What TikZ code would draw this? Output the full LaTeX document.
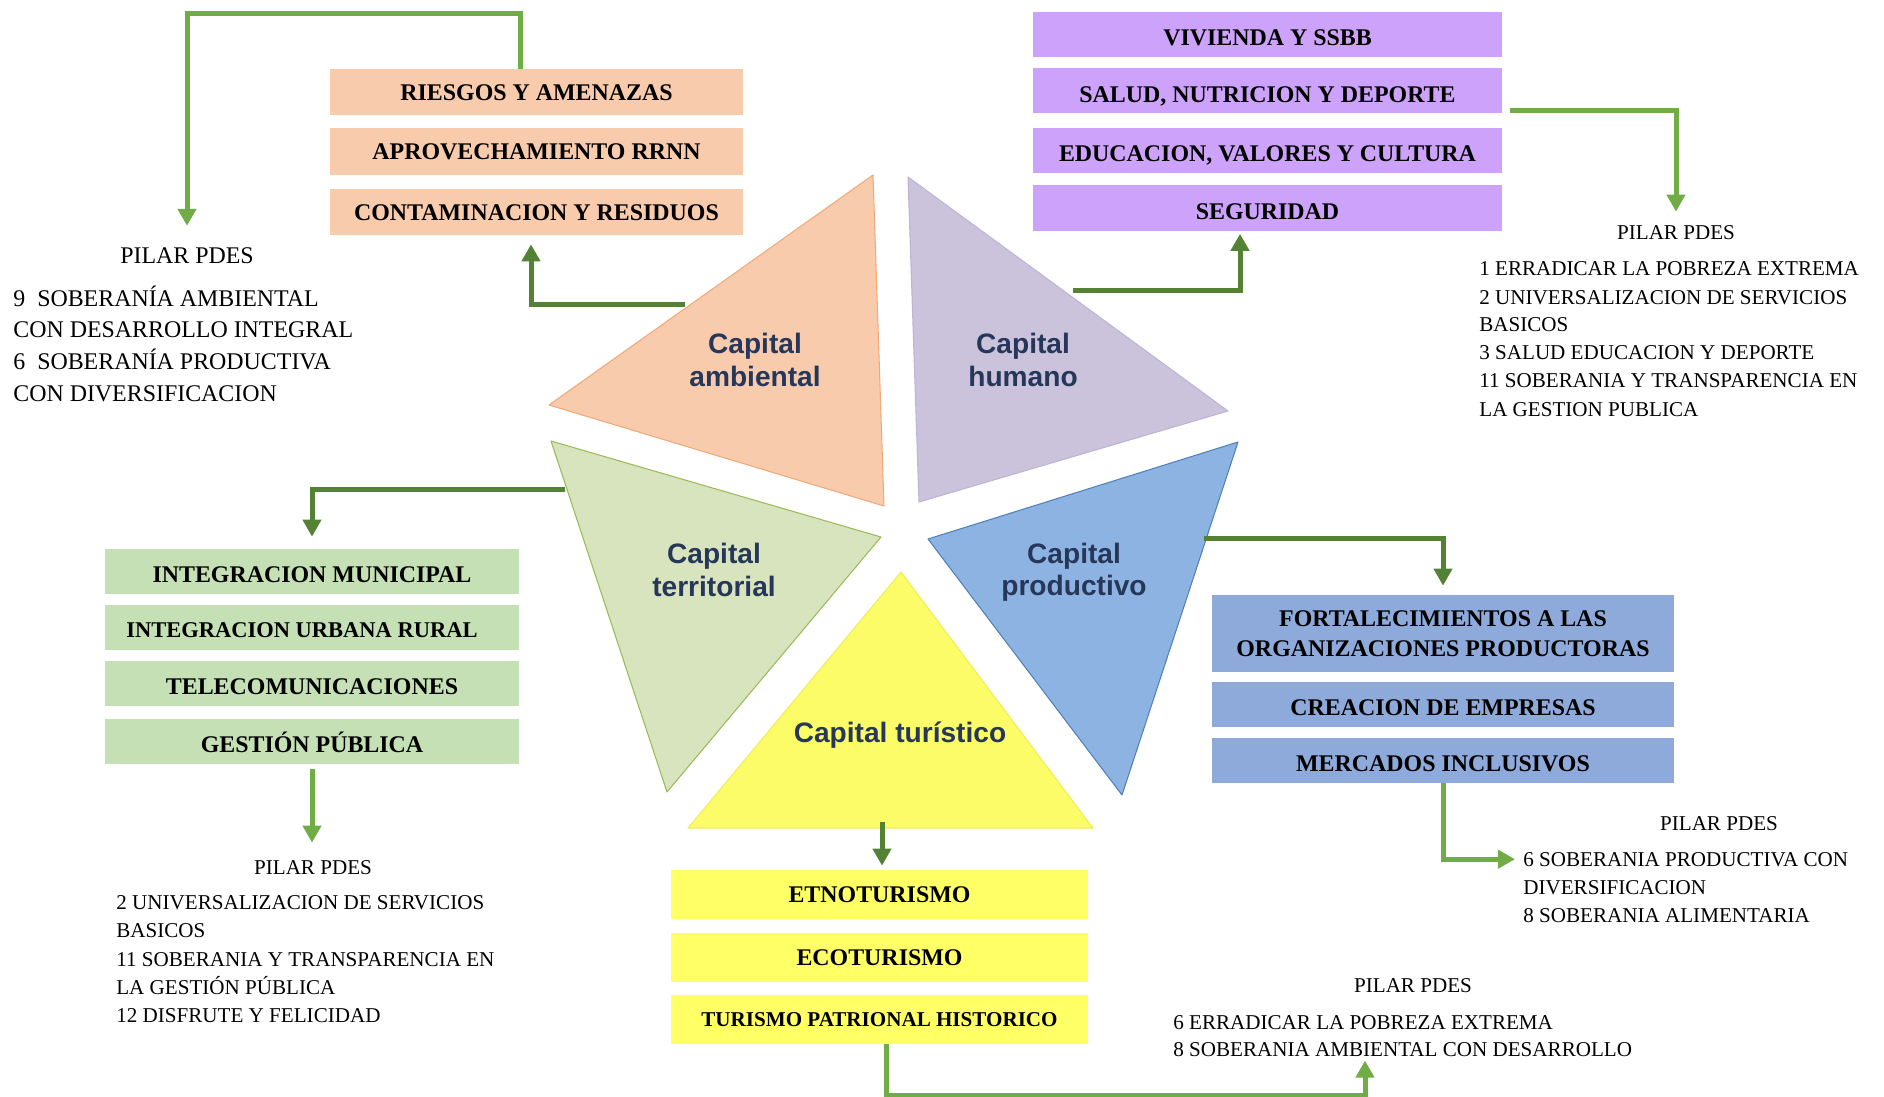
\documentclass[tikz,border=0pt]{standalone}
\usepackage{fontspec}
\setmainfont{Liberation Serif}
\newfontfamily\labelfont{Liberation Sans}
\usetikzlibrary{arrows.meta}

\definecolor{trifillamb}{RGB}{248,203,173}
\definecolor{trilineamb}{RGB}{240,170,120}
\definecolor{trifillhum}{RGB}{203,194,220}
\definecolor{trilinehum}{RGB}{190,180,212}
\definecolor{trifillter}{RGB}{215,228,189}
\definecolor{trilineter}{RGB}{155,187,89}
\definecolor{trifillpro}{RGB}{141,179,226}
\definecolor{trilinepro}{RGB}{79,129,189}
\definecolor{trifilltur}{RGB}{252,252,105}
\definecolor{trilinetur}{RGB}{238,238,90}
\definecolor{ambbox}{RGB}{248,203,173}
\definecolor{humbox}{RGB}{205,162,250}
\definecolor{terbox}{RGB}{197,224,180}
\definecolor{probox}{RGB}{142,170,219}
\definecolor{turbox}{RGB}{255,255,102}
\definecolor{lightgreen}{RGB}{112,173,71}
\definecolor{darkgreen}{RGB}{84,130,53}
\definecolor{labelblue}{RGB}{38,55,90}

\begin{document}
\begin{tikzpicture}
[x=0.2mm, y=-0.2mm,
  boxdecorate/.style={shape=rectangle, inner sep=0pt,
    font=\bfseries\fontsize{13.6}{17}\selectfont},
  capsbox/.style={text height=3.2mm, text depth=0pt},
  lowbox/.style={text height=4.4mm, text depth=0pt},
  tridecorate/.style={line width=0.6pt, line join=round},
  labeldecorate/.style={align=center, text=labelblue,
    font=\labelfont\bfseries\fontsize{16}{18.5}\selectfont},
  headdecorate/.style={inner sep=0pt, anchor=base, font=\fontsize{12}{14}\selectfont},
  pilardecorate/.style={inner sep=0pt, anchor=base west, font=\fontsize{12}{14}\selectfont},
  lightline/.style={draw=lightgreen, line width=1mm, -{Triangle[width=3.6mm,length=3.4mm]}},
  darkline/.style={draw=darkgreen, line width=1mm, -{Triangle[width=3.6mm,length=3.4mm]}}]
\useasboundingbox (0,0) rectangle (1884,1097);

%% triangles of the pentagon
\foreach \nodename/\x/\y in {amb1/549/405, amb2/873/175, amb3/884/506,
  hum1/908/177, hum2/1228/411, hum3/919/502,
  ter1/551/441, ter2/881/537, ter3/667/792,
  pro1/1238/442, pro2/928/539, pro3/1122/795,
  tur1/901/572, tur2/688/828, tur3/1093/828}
{
  \coordinate (\nodename) at (\x,\y);
}
\foreach \tri in {amb, hum, ter, pro, tur}
{
  \filldraw[tridecorate, fill=trifill\tri, draw=triline\tri]
    (\tri1) -- (\tri2) -- (\tri3) -- cycle;
}
\node (ambiental) at (755,360) [labeldecorate] {Capital\\ambiental};
\node (humano) at (1023,360) [labeldecorate] {Capital\\humano};
\node (territorial) at (714,570) [labeldecorate] {Capital\\territorial};
\node (productivo) at (1074,572) [labeldecorate] {Capital\\productivo};
\node (turistico) at (900,735) [labeldecorate] {Capital turístico};

%% boxes
\foreach \nodename/\y/\txt in {riesgos/92.5/{RIESGOS Y AMENAZAS},
  aprovecha/151.5/{APROVECHAMIENTO RRNN}, contam/212/{CONTAMINACION Y RESIDUOS}}
{
  \node (\nodename) at (536.5,\y) [boxdecorate, capsbox, fill=ambbox,
    minimum width=82.6mm, minimum height=9.2mm] {\txt};
}
\foreach \nodename/\y/\txt in {vivienda/35/{VIVIENDA Y SSBB},
  salud/91/{SALUD, NUTRICION Y DEPORTE},
  educacion/150.5/{EDUCACION, VALORES Y CULTURA}, seguridad/208/{SEGURIDAD}}
{
  \node (\nodename) at (1267.5,\y) [boxdecorate, lowbox, fill=humbox,
    minimum width=93.8mm, minimum height=9mm] {\txt};
}
\foreach \nodename/\y/\txt in {intmun/571.5/{INTEGRACION MUNICIPAL},
  telecom/683.5/{TELECOMUNICACIONES}, gestion/741.5/{GESTIÓN PÚBLICA}}
{
  \node (\nodename) at (312,\y) [boxdecorate, lowbox, fill=terbox,
    minimum width=82.8mm, minimum height=9mm] {\txt};
}
\node (inturb) at (312,627) [boxdecorate, fill=terbox, minimum width=82.8mm,
  minimum height=9mm, text height=4.2mm, text depth=0pt,
  font=\bfseries\fontsize{12.8}{15}\selectfont] {INTEGRACION URBANA RURAL\hspace*{4mm}};
\node (fort) at (1443,633.5) [boxdecorate, align=center, fill=probox, minimum width=92.4mm,
  minimum height=15.4mm] {FORTALECIMIENTOS A LAS\\ORGANIZACIONES PRODUCTORAS};
\foreach \nodename/\y/\txt in {creacion/704.5/{CREACION DE EMPRESAS},
  mercados/760.5/{MERCADOS INCLUSIVOS}}
{
  \node (\nodename) at (1443,\y) [boxdecorate, lowbox, fill=probox,
    minimum width=92.4mm, minimum height=9mm] {\txt};
}
\foreach \nodename/\y/\txt in {etno/894.5/{ETNOTURISMO}, eco/957.5/{ECOTURISMO}}
{
  \node (\nodename) at (879.5,\y) [boxdecorate, capsbox, fill=turbox,
    minimum width=83.4mm, minimum height=9.8mm] {\txt};
}
\node (turismo) at (879.5,1019.5) [boxdecorate, fill=turbox, minimum width=83.4mm,
  minimum height=9.8mm, text height=2.8mm, text depth=0pt,
  font=\bfseries\fontsize{12}{14}\selectfont] {TURISMO PATRIONAL HISTORICO};

%% pilar pdes texts
\node (pilarA) at (187,263) [headdecorate, font=\fontsize{13.6}{18}\selectfont] {PILAR PDES};
\foreach \nodename/\y/\txt in {pa1/306/{9~ SOBERANÍA AMBIENTAL},
  pa2/337/{CON DESARROLLO INTEGRAL}, pa3/369/{6~ SOBERANÍA PRODUCTIVA},
  pa4/401/{CON DIVERSIFICACION}}
{
  \node (\nodename) at (13,\y) [pilardecorate, font=\fontsize{13.6}{18}\selectfont] {\txt};
}
\node (pilarB) at (1676,239) [headdecorate] {PILAR PDES};
\foreach \nodename/\y/\txt in {pb1/275/{1 ERRADICAR LA POBREZA EXTREMA},
  pb2/304/{2 UNIVERSALIZACION DE SERVICIOS}, pb3/331/{BASICOS},
  pb4/359/{3 SALUD EDUCACION Y DEPORTE}, pb5/387/{11 SOBERANIA Y TRANSPARENCIA EN},
  pb6/416/{LA GESTION PUBLICA}}
{
  \node (\nodename) at (1479,\y) [pilardecorate] {\txt};
}
\node (pilarC) at (313,874) [headdecorate] {PILAR PDES};
\foreach \nodename/\y/\txt in {pc1/909/{2 UNIVERSALIZACION DE SERVICIOS},
  pc2/937/{BASICOS}, pc3/966/{11 SOBERANIA Y TRANSPARENCIA EN},
  pc4/994/{LA GESTIÓN PÚBLICA}, pc5/1022/{12 DISFRUTE Y FELICIDAD}}
{
  \node (\nodename) at (116,\y) [pilardecorate] {\txt};
}
\node (pilarD) at (1719,830) [headdecorate] {PILAR PDES};
\foreach \nodename/\y/\txt in {pd1/866/{6 SOBERANIA PRODUCTIVA CON},
  pd2/894/{DIVERSIFICACION}, pd3/922/{8 SOBERANIA ALIMENTARIA}}
{
  \node (\nodename) at (1523,\y) [pilardecorate] {\txt};
}
\node (pilarE) at (1413,992) [headdecorate] {PILAR PDES};
\foreach \nodename/\y/\txt in {pe1/1029/{6 ERRADICAR LA POBREZA EXTREMA},
  pe2/1056/{8 SOBERANIA AMBIENTAL CON DESARROLLO}}
{
  \node (\nodename) at (1173,\y) [pilardecorate] {\txt};
}

%% connectors
\foreach \nodename/\x/\y in {ambout/685/304, humout/1073/290, terout/565/489,
  proout/1204/538, turout/882/822}
{
  \coordinate (\nodename) at (\x,\y);
}
\draw[darkline] (ambout) -| ([xshift=-1.1mm,yshift=-1.8mm]contam.south);
\draw[darkline] (humout) -| ([xshift=-5.5mm,yshift=-0.6mm]seguridad.south);
\draw[darkline] (terout) -| ([yshift=2.4mm]intmun.north);
\draw[darkline] (proout) -| ([yshift=1.8mm]fort.north);
\draw[darkline] (turout) -- ([yshift=0.8mm]turout |- etno.north);
\draw[lightline] ([xshift=-3.3mm]riesgos.north) -- ++(0,-56) -| ([yshift=4.2mm]pilarA.north);
\draw[lightline] ([xshift=1.6mm,yshift=-4mm]salud.east) -| ([yshift=2.6mm]pilarB.north);
\draw[lightline] ([yshift=-1mm]gestion.south) -- ([yshift=3.4mm]gestion.south |- pilarC.north);
\draw[lightline] (mercados.south) |- ([xshift=-1.6mm]pd1.west);
\draw[lightline] ([xshift=1.3mm]turismo.south) -- ++(0,51)
  -| ([xshift=38.4mm,yshift=-0.8mm]pe2.south west);
\end{tikzpicture}
\end{document}
